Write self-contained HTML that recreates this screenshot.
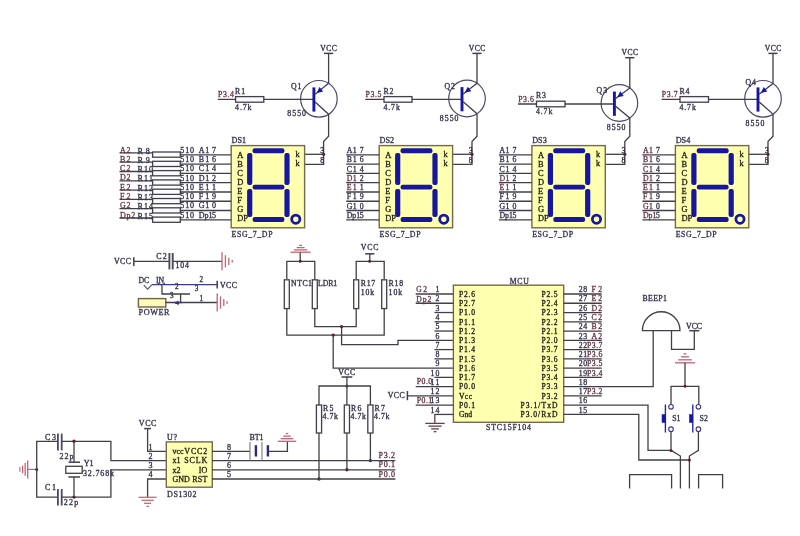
<!DOCTYPE html>
<html><head><meta charset="utf-8"><style>
html,body{margin:0;padding:0;background:#fff;overflow:hidden;}
svg{display:block;filter:blur(0.35px);}
text{font-family:"Liberation Serif",serif;}
</style></head><body>
<svg width="800" height="536" viewBox="0 0 800 536">
<rect width="800" height="536" fill="#ffffff"/>
<text x="328.6" y="50.8" font-size="7.6" fill="#34344c" text-anchor="middle" textLength="16.5" lengthAdjust="spacing" stroke="#34344c" stroke-width="0.32">VCC</text>
<line x1="324" y1="53.4" x2="333.2" y2="53.4" stroke="#404046" stroke-width="1.5"/>
<line x1="328.6" y1="53.4" x2="328.6" y2="83.28" stroke="#404046" stroke-width="1.3"/>
<circle cx="318.9" cy="98.8" r="18.3" fill="none" stroke="#4a4a66" stroke-width="1.2"/>
<line x1="217.8" y1="99.4" x2="313.9" y2="99.4" stroke="#404046" stroke-width="1.3"/>
<rect x="235.6" y="96.6" width="28.2" height="5.6" fill="#fbfbff" stroke="#404046" stroke-width="1.3"/>
<text x="218" y="96.9" font-size="7.8" fill="#66384a" textLength="15.8" lengthAdjust="spacing" stroke="#66384a" stroke-width="0.32">P3.4</text>
<text x="235.1" y="93.5" font-size="7.8" fill="#34344c" textLength="10" lengthAdjust="spacing" stroke="#34344c" stroke-width="0.32">R1</text>
<text x="235.1" y="109.6" font-size="7.8" fill="#34344c" textLength="16.3" lengthAdjust="spacing" stroke="#34344c" stroke-width="0.32">4.7k</text>
<text x="290.9" y="88.5" font-size="7.8" fill="#34344c" textLength="10.5" lengthAdjust="spacing" stroke="#34344c" stroke-width="0.32">Q1</text>
<text x="287.2" y="115.6" font-size="7.8" fill="#34344c" textLength="18.8" lengthAdjust="spacing" stroke="#34344c" stroke-width="0.32">8550</text>
<line x1="313.9" y1="87.4" x2="313.9" y2="111.6" stroke="#1616a0" stroke-width="2.9"/>
<line x1="315.1" y1="94.2" x2="328.6" y2="83.28" stroke="#3a3a70" stroke-width="1.3"/>
<polygon points="316.66,92.94 323.14,91.42 319.5,86.91" fill="#1616a0"/>
<line x1="315.1" y1="102" x2="328.6" y2="114.32" stroke="#3a3a50" stroke-width="1.3"/>
<polyline points="328.6,114.32 328.6,136.3 323.6,141.6 323.6,164.4 304.6,164.4" fill="none" stroke="#404046" stroke-width="1.3" stroke-linejoin="miter"/>
<line x1="304.6" y1="154.3" x2="323.6" y2="154.3" stroke="#404046" stroke-width="1.3"/>
<circle cx="323.6" cy="154.3" r="1.6" fill="#5a2030"/>
<text x="324.2" y="152.6" font-size="7.8" fill="#34344c" text-anchor="end" stroke="#34344c" stroke-width="0.32">3</text>
<text x="324.2" y="162.5" font-size="7.8" fill="#34344c" text-anchor="end" stroke="#34344c" stroke-width="0.32">8</text>
<text x="477" y="50.8" font-size="7.6" fill="#34344c" text-anchor="middle" textLength="16.5" lengthAdjust="spacing" stroke="#34344c" stroke-width="0.32">VCC</text>
<line x1="472.4" y1="53.4" x2="481.6" y2="53.4" stroke="#404046" stroke-width="1.5"/>
<line x1="477" y1="53.4" x2="477" y2="83.17" stroke="#404046" stroke-width="1.3"/>
<circle cx="467" cy="98.5" r="18.3" fill="none" stroke="#4a4a66" stroke-width="1.2"/>
<line x1="365.3" y1="99.4" x2="462" y2="99.4" stroke="#404046" stroke-width="1.3"/>
<rect x="384" y="96.6" width="28" height="5.6" fill="#fbfbff" stroke="#404046" stroke-width="1.3"/>
<text x="365.5" y="96.9" font-size="7.8" fill="#66384a" textLength="15.8" lengthAdjust="spacing" stroke="#66384a" stroke-width="0.32">P3.5</text>
<text x="383.5" y="93.5" font-size="7.8" fill="#34344c" textLength="10" lengthAdjust="spacing" stroke="#34344c" stroke-width="0.32">R2</text>
<text x="383.5" y="109.6" font-size="7.8" fill="#34344c" textLength="16.3" lengthAdjust="spacing" stroke="#34344c" stroke-width="0.32">4.7k</text>
<text x="444.5" y="88.6" font-size="7.8" fill="#34344c" textLength="10.5" lengthAdjust="spacing" stroke="#34344c" stroke-width="0.32">Q2</text>
<text x="439.7" y="121.4" font-size="7.8" fill="#34344c" textLength="18.8" lengthAdjust="spacing" stroke="#34344c" stroke-width="0.32">8550</text>
<line x1="462" y1="87.1" x2="462" y2="111.3" stroke="#1616a0" stroke-width="2.9"/>
<line x1="463.2" y1="93.9" x2="477" y2="83.17" stroke="#3a3a70" stroke-width="1.3"/>
<polygon points="464.78,92.67 471.3,91.28 467.74,86.7" fill="#1616a0"/>
<line x1="463.2" y1="101.7" x2="477" y2="113.83" stroke="#3a3a50" stroke-width="1.3"/>
<polyline points="477,113.83 477,136.3 472,141.6 472,164.4 452.6,164.4" fill="none" stroke="#404046" stroke-width="1.3" stroke-linejoin="miter"/>
<line x1="452.6" y1="154.3" x2="472" y2="154.3" stroke="#404046" stroke-width="1.3"/>
<circle cx="472" cy="154.3" r="1.6" fill="#5a2030"/>
<text x="472.6" y="152.6" font-size="7.8" fill="#34344c" text-anchor="end" stroke="#34344c" stroke-width="0.32">3</text>
<text x="472.6" y="162.5" font-size="7.8" fill="#34344c" text-anchor="end" stroke="#34344c" stroke-width="0.32">8</text>
<text x="629.8" y="55.1" font-size="7.6" fill="#34344c" text-anchor="middle" textLength="16.5" lengthAdjust="spacing" stroke="#34344c" stroke-width="0.32">VCC</text>
<line x1="625.2" y1="57.7" x2="634.4" y2="57.7" stroke="#404046" stroke-width="1.5"/>
<line x1="629.8" y1="57.7" x2="629.8" y2="87.94" stroke="#404046" stroke-width="1.3"/>
<circle cx="619.4" cy="103" r="18.3" fill="none" stroke="#4a4a66" stroke-width="1.2"/>
<line x1="518" y1="104" x2="614.4" y2="104" stroke="#404046" stroke-width="1.3"/>
<rect x="536.5" y="101.2" width="28.5" height="5.6" fill="#fbfbff" stroke="#404046" stroke-width="1.3"/>
<text x="518.2" y="101.5" font-size="7.8" fill="#66384a" textLength="15.8" lengthAdjust="spacing" stroke="#66384a" stroke-width="0.32">P3.6</text>
<text x="536" y="98.1" font-size="7.8" fill="#34344c" textLength="10" lengthAdjust="spacing" stroke="#34344c" stroke-width="0.32">R3</text>
<text x="536" y="114.2" font-size="7.8" fill="#34344c" textLength="16.3" lengthAdjust="spacing" stroke="#34344c" stroke-width="0.32">4.7k</text>
<text x="596.6" y="93.4" font-size="7.8" fill="#34344c" textLength="10.5" lengthAdjust="spacing" stroke="#34344c" stroke-width="0.32">Q3</text>
<text x="606.7" y="130" font-size="7.8" fill="#34344c" textLength="18.8" lengthAdjust="spacing" stroke="#34344c" stroke-width="0.32">8550</text>
<line x1="614.4" y1="91.6" x2="614.4" y2="115.8" stroke="#1616a0" stroke-width="2.9"/>
<line x1="615.6" y1="98.4" x2="629.8" y2="87.94" stroke="#3a3a70" stroke-width="1.3"/>
<polygon points="617.21,97.21 623.76,95.99 620.32,91.32" fill="#1616a0"/>
<line x1="615.6" y1="106.2" x2="629.8" y2="118.06" stroke="#3a3a50" stroke-width="1.3"/>
<polyline points="629.8,118.06 629.8,136.3 624.8,141.6 624.8,164.4 605.3,164.4" fill="none" stroke="#404046" stroke-width="1.3" stroke-linejoin="miter"/>
<line x1="605.3" y1="154.3" x2="624.8" y2="154.3" stroke="#404046" stroke-width="1.3"/>
<circle cx="624.8" cy="154.3" r="1.6" fill="#5a2030"/>
<text x="625.4" y="152.6" font-size="7.8" fill="#34344c" text-anchor="end" stroke="#34344c" stroke-width="0.32">3</text>
<text x="625.4" y="162.5" font-size="7.8" fill="#34344c" text-anchor="end" stroke="#34344c" stroke-width="0.32">8</text>
<text x="773" y="50.8" font-size="7.6" fill="#34344c" text-anchor="middle" textLength="16.5" lengthAdjust="spacing" stroke="#34344c" stroke-width="0.32">VCC</text>
<line x1="768.4" y1="53.4" x2="777.6" y2="53.4" stroke="#404046" stroke-width="1.5"/>
<line x1="773" y1="53.4" x2="773" y2="83.47" stroke="#404046" stroke-width="1.3"/>
<circle cx="763" cy="98.8" r="18.3" fill="none" stroke="#4a4a66" stroke-width="1.2"/>
<line x1="661.6" y1="99.4" x2="758" y2="99.4" stroke="#404046" stroke-width="1.3"/>
<rect x="680" y="96.6" width="28.5" height="5.6" fill="#fbfbff" stroke="#404046" stroke-width="1.3"/>
<text x="661.8" y="96.9" font-size="7.8" fill="#66384a" textLength="15.8" lengthAdjust="spacing" stroke="#66384a" stroke-width="0.32">P3.7</text>
<text x="679.5" y="93.5" font-size="7.8" fill="#34344c" textLength="10" lengthAdjust="spacing" stroke="#34344c" stroke-width="0.32">R4</text>
<text x="679.5" y="109.6" font-size="7.8" fill="#34344c" textLength="16.3" lengthAdjust="spacing" stroke="#34344c" stroke-width="0.32">4.7k</text>
<text x="745.5" y="84.8" font-size="7.8" fill="#34344c" textLength="10.5" lengthAdjust="spacing" stroke="#34344c" stroke-width="0.32">Q4</text>
<text x="745.5" y="126" font-size="7.8" fill="#34344c" textLength="18.8" lengthAdjust="spacing" stroke="#34344c" stroke-width="0.32">8550</text>
<line x1="758" y1="87.4" x2="758" y2="111.6" stroke="#1616a0" stroke-width="2.9"/>
<line x1="759.2" y1="94.2" x2="773" y2="83.47" stroke="#3a3a70" stroke-width="1.3"/>
<polygon points="760.78,92.97 767.3,91.58 763.74,87" fill="#1616a0"/>
<line x1="759.2" y1="102" x2="773" y2="114.13" stroke="#3a3a50" stroke-width="1.3"/>
<polyline points="773,114.13 773,136.3 768,141.6 768,164.4 748.8,164.4" fill="none" stroke="#404046" stroke-width="1.3" stroke-linejoin="miter"/>
<line x1="748.8" y1="154.3" x2="768" y2="154.3" stroke="#404046" stroke-width="1.3"/>
<circle cx="768" cy="154.3" r="1.6" fill="#5a2030"/>
<text x="768.6" y="152.6" font-size="7.8" fill="#34344c" text-anchor="end" stroke="#34344c" stroke-width="0.32">3</text>
<text x="768.6" y="162.5" font-size="7.8" fill="#34344c" text-anchor="end" stroke="#34344c" stroke-width="0.32">8</text>
<rect x="231.2" y="145.6" width="73.4" height="82.2" fill="#ffffb0" stroke="#74694e" stroke-width="1.4"/>
<text x="231.5" y="143.2" font-size="8.2" fill="#34344c" stroke="#34344c" stroke-width="0.32">DS1</text>
<text x="231.5" y="236.5" font-size="7.8" fill="#34344c" textLength="41" lengthAdjust="spacing" stroke="#34344c" stroke-width="0.32">ESG_7_DP</text>
<text x="237.2" y="157.5" font-size="8.4" fill="#26241a" stroke="#26241a" stroke-width="0.32">A</text>
<text x="237.2" y="166.64" font-size="8.4" fill="#26241a" stroke="#26241a" stroke-width="0.32">B</text>
<text x="237.2" y="175.78" font-size="8.4" fill="#26241a" stroke="#26241a" stroke-width="0.32">C</text>
<text x="237.2" y="184.92" font-size="8.4" fill="#26241a" stroke="#26241a" stroke-width="0.32">D</text>
<text x="237.2" y="194.06" font-size="8.4" fill="#26241a" stroke="#26241a" stroke-width="0.32">E</text>
<text x="237.2" y="203.2" font-size="8.4" fill="#26241a" stroke="#26241a" stroke-width="0.32">F</text>
<text x="237.2" y="212.34" font-size="8.4" fill="#26241a" stroke="#26241a" stroke-width="0.32">G</text>
<text x="237.2" y="221.48" font-size="8.4" fill="#26241a" stroke="#26241a" stroke-width="0.32">DP</text>
<text x="295.4" y="156.8" font-size="8.2" fill="#26241a" stroke="#26241a" stroke-width="0.32">k</text>
<text x="295.4" y="166" font-size="8.2" fill="#26241a" stroke="#26241a" stroke-width="0.32">k</text>
<rect x="252.6" y="148.2" width="31.8" height="5" rx="2" fill="#1616a0"/>
<rect x="252.6" y="184.8" width="31.8" height="4.8" rx="2" fill="#1616a0"/>
<rect x="252.6" y="217.1" width="31.8" height="5" rx="2" fill="#1616a0"/>
<rect x="247.1" y="153" width="5.2" height="32" rx="2" fill="#1616a0"/>
<rect x="284.4" y="153" width="5.2" height="32" rx="2" fill="#1616a0"/>
<rect x="247.1" y="189" width="5.2" height="28.1" rx="2" fill="#1616a0"/>
<rect x="284.4" y="189" width="5.2" height="28.1" rx="2" fill="#1616a0"/>
<circle cx="295.8" cy="219.2" r="4.1" fill="none" stroke="#1616a0" stroke-width="2.8"/>
<line x1="180.3" y1="154.9" x2="231.2" y2="154.9" stroke="#404046" stroke-width="1.3"/>
<text x="180.3" y="152.8" font-size="8" fill="#34344c" textLength="13.8" lengthAdjust="spacing" stroke="#34344c" stroke-width="0.32">510</text>
<text x="198.7" y="152.8" font-size="8" fill="#34344c" textLength="10.5" lengthAdjust="spacing" stroke="#34344c" stroke-width="0.32">A1</text>
<text x="212" y="152.8" font-size="8" fill="#34344c" stroke="#34344c" stroke-width="0.32">7</text>
<line x1="180.3" y1="164.17" x2="231.2" y2="164.17" stroke="#404046" stroke-width="1.3"/>
<text x="180.3" y="162.07" font-size="8" fill="#34344c" textLength="13.8" lengthAdjust="spacing" stroke="#34344c" stroke-width="0.32">510</text>
<text x="198.7" y="162.07" font-size="8" fill="#34344c" textLength="10.5" lengthAdjust="spacing" stroke="#34344c" stroke-width="0.32">B1</text>
<text x="212" y="162.07" font-size="8" fill="#34344c" stroke="#34344c" stroke-width="0.32">6</text>
<line x1="180.3" y1="173.44" x2="231.2" y2="173.44" stroke="#404046" stroke-width="1.3"/>
<text x="180.3" y="171.34" font-size="8" fill="#34344c" textLength="13.8" lengthAdjust="spacing" stroke="#34344c" stroke-width="0.32">510</text>
<text x="198.7" y="171.34" font-size="8" fill="#34344c" textLength="10.5" lengthAdjust="spacing" stroke="#34344c" stroke-width="0.32">C1</text>
<text x="212" y="171.34" font-size="8" fill="#34344c" stroke="#34344c" stroke-width="0.32">4</text>
<line x1="180.3" y1="182.71" x2="231.2" y2="182.71" stroke="#404046" stroke-width="1.3"/>
<text x="180.3" y="180.61" font-size="8" fill="#34344c" textLength="13.8" lengthAdjust="spacing" stroke="#34344c" stroke-width="0.32">510</text>
<text x="198.7" y="180.61" font-size="8" fill="#34344c" textLength="10.5" lengthAdjust="spacing" stroke="#34344c" stroke-width="0.32">D1</text>
<text x="212" y="180.61" font-size="8" fill="#34344c" stroke="#34344c" stroke-width="0.32">2</text>
<line x1="180.3" y1="191.98" x2="231.2" y2="191.98" stroke="#404046" stroke-width="1.3"/>
<text x="180.3" y="189.88" font-size="8" fill="#34344c" textLength="13.8" lengthAdjust="spacing" stroke="#34344c" stroke-width="0.32">510</text>
<text x="198.7" y="189.88" font-size="8" fill="#34344c" textLength="10.5" lengthAdjust="spacing" stroke="#34344c" stroke-width="0.32">E1</text>
<text x="212" y="189.88" font-size="8" fill="#34344c" stroke="#34344c" stroke-width="0.32">1</text>
<line x1="180.3" y1="201.25" x2="231.2" y2="201.25" stroke="#404046" stroke-width="1.3"/>
<text x="180.3" y="199.15" font-size="8" fill="#34344c" textLength="13.8" lengthAdjust="spacing" stroke="#34344c" stroke-width="0.32">510</text>
<text x="198.7" y="199.15" font-size="8" fill="#34344c" textLength="10.5" lengthAdjust="spacing" stroke="#34344c" stroke-width="0.32">F1</text>
<text x="212" y="199.15" font-size="8" fill="#34344c" stroke="#34344c" stroke-width="0.32">9</text>
<line x1="180.3" y1="210.52" x2="231.2" y2="210.52" stroke="#404046" stroke-width="1.3"/>
<text x="180.3" y="208.42" font-size="8" fill="#34344c" textLength="13.8" lengthAdjust="spacing" stroke="#34344c" stroke-width="0.32">510</text>
<text x="198.7" y="208.42" font-size="8" fill="#34344c" textLength="10.5" lengthAdjust="spacing" stroke="#34344c" stroke-width="0.32">G1</text>
<text x="212" y="208.42" font-size="8" fill="#34344c" stroke="#34344c" stroke-width="0.32">0</text>
<line x1="180.3" y1="219.79" x2="231.2" y2="219.79" stroke="#404046" stroke-width="1.3"/>
<text x="180.3" y="217.69" font-size="8" fill="#34344c" textLength="13.8" lengthAdjust="spacing" stroke="#34344c" stroke-width="0.32">510</text>
<text x="198.7" y="217.69" font-size="8" fill="#34344c" stroke="#34344c" stroke-width="0.32">Dp1</text>
<text x="212" y="217.69" font-size="8" fill="#34344c" stroke="#34344c" stroke-width="0.32">5</text>
<rect x="379.2" y="145.6" width="73.4" height="82.2" fill="#ffffb0" stroke="#74694e" stroke-width="1.4"/>
<text x="379.5" y="143.2" font-size="8.2" fill="#34344c" stroke="#34344c" stroke-width="0.32">DS2</text>
<text x="379.5" y="236.5" font-size="7.8" fill="#34344c" textLength="41" lengthAdjust="spacing" stroke="#34344c" stroke-width="0.32">ESG_7_DP</text>
<text x="385.2" y="157.5" font-size="8.4" fill="#26241a" stroke="#26241a" stroke-width="0.32">A</text>
<text x="385.2" y="166.64" font-size="8.4" fill="#26241a" stroke="#26241a" stroke-width="0.32">B</text>
<text x="385.2" y="175.78" font-size="8.4" fill="#26241a" stroke="#26241a" stroke-width="0.32">C</text>
<text x="385.2" y="184.92" font-size="8.4" fill="#26241a" stroke="#26241a" stroke-width="0.32">D</text>
<text x="385.2" y="194.06" font-size="8.4" fill="#26241a" stroke="#26241a" stroke-width="0.32">E</text>
<text x="385.2" y="203.2" font-size="8.4" fill="#26241a" stroke="#26241a" stroke-width="0.32">F</text>
<text x="385.2" y="212.34" font-size="8.4" fill="#26241a" stroke="#26241a" stroke-width="0.32">G</text>
<text x="385.2" y="221.48" font-size="8.4" fill="#26241a" stroke="#26241a" stroke-width="0.32">DP</text>
<text x="443.4" y="156.8" font-size="8.2" fill="#26241a" stroke="#26241a" stroke-width="0.32">k</text>
<text x="443.4" y="166" font-size="8.2" fill="#26241a" stroke="#26241a" stroke-width="0.32">k</text>
<rect x="400.6" y="148.2" width="31.8" height="5" rx="2" fill="#1616a0"/>
<rect x="400.6" y="184.8" width="31.8" height="4.8" rx="2" fill="#1616a0"/>
<rect x="400.6" y="217.1" width="31.8" height="5" rx="2" fill="#1616a0"/>
<rect x="395.1" y="153" width="5.2" height="32" rx="2" fill="#1616a0"/>
<rect x="432.4" y="153" width="5.2" height="32" rx="2" fill="#1616a0"/>
<rect x="395.1" y="189" width="5.2" height="28.1" rx="2" fill="#1616a0"/>
<rect x="432.4" y="189" width="5.2" height="28.1" rx="2" fill="#1616a0"/>
<circle cx="443.8" cy="219.2" r="4.1" fill="none" stroke="#1616a0" stroke-width="2.8"/>
<line x1="346.2" y1="154.9" x2="379.2" y2="154.9" stroke="#404046" stroke-width="1.3"/>
<text x="346.7" y="153" font-size="7.8" fill="#34344c" textLength="10" lengthAdjust="spacing" stroke="#34344c" stroke-width="0.32">A1</text>
<text x="359.7" y="153" font-size="7.8" fill="#34344c" stroke="#34344c" stroke-width="0.32">7</text>
<line x1="346.2" y1="164.17" x2="379.2" y2="164.17" stroke="#404046" stroke-width="1.3"/>
<text x="346.7" y="162.27" font-size="7.8" fill="#34344c" textLength="10" lengthAdjust="spacing" stroke="#34344c" stroke-width="0.32">B1</text>
<text x="359.7" y="162.27" font-size="7.8" fill="#34344c" stroke="#34344c" stroke-width="0.32">6</text>
<line x1="346.2" y1="173.44" x2="379.2" y2="173.44" stroke="#404046" stroke-width="1.3"/>
<text x="346.7" y="171.54" font-size="7.8" fill="#34344c" textLength="10" lengthAdjust="spacing" stroke="#34344c" stroke-width="0.32">C1</text>
<text x="359.7" y="171.54" font-size="7.8" fill="#34344c" stroke="#34344c" stroke-width="0.32">4</text>
<line x1="346.2" y1="182.71" x2="379.2" y2="182.71" stroke="#404046" stroke-width="1.3"/>
<text x="346.7" y="180.81" font-size="7.8" fill="#66384a" textLength="10" lengthAdjust="spacing" stroke="#66384a" stroke-width="0.32">D1</text>
<text x="359.7" y="180.81" font-size="7.8" fill="#34344c" stroke="#34344c" stroke-width="0.32">2</text>
<line x1="346.2" y1="191.98" x2="379.2" y2="191.98" stroke="#404046" stroke-width="1.3"/>
<text x="346.7" y="190.08" font-size="7.8" fill="#66384a" textLength="10" lengthAdjust="spacing" stroke="#66384a" stroke-width="0.32">E1</text>
<text x="359.7" y="190.08" font-size="7.8" fill="#34344c" stroke="#34344c" stroke-width="0.32">1</text>
<line x1="346.2" y1="201.25" x2="379.2" y2="201.25" stroke="#404046" stroke-width="1.3"/>
<text x="346.7" y="199.35" font-size="7.8" fill="#34344c" textLength="10" lengthAdjust="spacing" stroke="#34344c" stroke-width="0.32">F1</text>
<text x="359.7" y="199.35" font-size="7.8" fill="#34344c" stroke="#34344c" stroke-width="0.32">9</text>
<line x1="346.2" y1="210.52" x2="379.2" y2="210.52" stroke="#404046" stroke-width="1.3"/>
<text x="346.7" y="208.62" font-size="7.8" fill="#34344c" textLength="10" lengthAdjust="spacing" stroke="#34344c" stroke-width="0.32">G1</text>
<text x="359.7" y="208.62" font-size="7.8" fill="#34344c" stroke="#34344c" stroke-width="0.32">0</text>
<line x1="346.2" y1="219.79" x2="379.2" y2="219.79" stroke="#404046" stroke-width="1.3"/>
<text x="346.7" y="217.89" font-size="7.8" fill="#34344c" stroke="#34344c" stroke-width="0.32">Dp1</text>
<text x="359.7" y="217.89" font-size="7.8" fill="#34344c" stroke="#34344c" stroke-width="0.32">5</text>
<rect x="531.9" y="145.6" width="73.4" height="82.2" fill="#ffffb0" stroke="#74694e" stroke-width="1.4"/>
<text x="532.2" y="143.2" font-size="8.2" fill="#34344c" stroke="#34344c" stroke-width="0.32">DS3</text>
<text x="532.2" y="236.5" font-size="7.8" fill="#34344c" textLength="41" lengthAdjust="spacing" stroke="#34344c" stroke-width="0.32">ESG_7_DP</text>
<text x="537.9" y="157.5" font-size="8.4" fill="#26241a" stroke="#26241a" stroke-width="0.32">A</text>
<text x="537.9" y="166.64" font-size="8.4" fill="#26241a" stroke="#26241a" stroke-width="0.32">B</text>
<text x="537.9" y="175.78" font-size="8.4" fill="#26241a" stroke="#26241a" stroke-width="0.32">C</text>
<text x="537.9" y="184.92" font-size="8.4" fill="#26241a" stroke="#26241a" stroke-width="0.32">D</text>
<text x="537.9" y="194.06" font-size="8.4" fill="#26241a" stroke="#26241a" stroke-width="0.32">E</text>
<text x="537.9" y="203.2" font-size="8.4" fill="#26241a" stroke="#26241a" stroke-width="0.32">F</text>
<text x="537.9" y="212.34" font-size="8.4" fill="#26241a" stroke="#26241a" stroke-width="0.32">G</text>
<text x="537.9" y="221.48" font-size="8.4" fill="#26241a" stroke="#26241a" stroke-width="0.32">DP</text>
<text x="596.1" y="156.8" font-size="8.2" fill="#26241a" stroke="#26241a" stroke-width="0.32">k</text>
<text x="596.1" y="166" font-size="8.2" fill="#26241a" stroke="#26241a" stroke-width="0.32">k</text>
<rect x="553.3" y="148.2" width="31.8" height="5" rx="2" fill="#1616a0"/>
<rect x="553.3" y="184.8" width="31.8" height="4.8" rx="2" fill="#1616a0"/>
<rect x="553.3" y="217.1" width="31.8" height="5" rx="2" fill="#1616a0"/>
<rect x="547.8" y="153" width="5.2" height="32" rx="2" fill="#1616a0"/>
<rect x="585.1" y="153" width="5.2" height="32" rx="2" fill="#1616a0"/>
<rect x="547.8" y="189" width="5.2" height="28.1" rx="2" fill="#1616a0"/>
<rect x="585.1" y="189" width="5.2" height="28.1" rx="2" fill="#1616a0"/>
<circle cx="596.5" cy="219.2" r="4.1" fill="none" stroke="#1616a0" stroke-width="2.8"/>
<line x1="498.9" y1="154.9" x2="531.9" y2="154.9" stroke="#404046" stroke-width="1.3"/>
<text x="499.4" y="153" font-size="7.8" fill="#34344c" textLength="10" lengthAdjust="spacing" stroke="#34344c" stroke-width="0.32">A1</text>
<text x="512.4" y="153" font-size="7.8" fill="#34344c" stroke="#34344c" stroke-width="0.32">7</text>
<line x1="498.9" y1="164.17" x2="531.9" y2="164.17" stroke="#404046" stroke-width="1.3"/>
<text x="499.4" y="162.27" font-size="7.8" fill="#34344c" textLength="10" lengthAdjust="spacing" stroke="#34344c" stroke-width="0.32">B1</text>
<text x="512.4" y="162.27" font-size="7.8" fill="#34344c" stroke="#34344c" stroke-width="0.32">6</text>
<line x1="498.9" y1="173.44" x2="531.9" y2="173.44" stroke="#404046" stroke-width="1.3"/>
<text x="499.4" y="171.54" font-size="7.8" fill="#34344c" textLength="10" lengthAdjust="spacing" stroke="#34344c" stroke-width="0.32">C1</text>
<text x="512.4" y="171.54" font-size="7.8" fill="#34344c" stroke="#34344c" stroke-width="0.32">4</text>
<line x1="498.9" y1="182.71" x2="531.9" y2="182.71" stroke="#404046" stroke-width="1.3"/>
<text x="499.4" y="180.81" font-size="7.8" fill="#66384a" textLength="10" lengthAdjust="spacing" stroke="#66384a" stroke-width="0.32">D1</text>
<text x="512.4" y="180.81" font-size="7.8" fill="#34344c" stroke="#34344c" stroke-width="0.32">2</text>
<line x1="498.9" y1="191.98" x2="531.9" y2="191.98" stroke="#404046" stroke-width="1.3"/>
<text x="499.4" y="190.08" font-size="7.8" fill="#66384a" textLength="10" lengthAdjust="spacing" stroke="#66384a" stroke-width="0.32">E1</text>
<text x="512.4" y="190.08" font-size="7.8" fill="#34344c" stroke="#34344c" stroke-width="0.32">1</text>
<line x1="498.9" y1="201.25" x2="531.9" y2="201.25" stroke="#404046" stroke-width="1.3"/>
<text x="499.4" y="199.35" font-size="7.8" fill="#34344c" textLength="10" lengthAdjust="spacing" stroke="#34344c" stroke-width="0.32">F1</text>
<text x="512.4" y="199.35" font-size="7.8" fill="#34344c" stroke="#34344c" stroke-width="0.32">9</text>
<line x1="498.9" y1="210.52" x2="531.9" y2="210.52" stroke="#404046" stroke-width="1.3"/>
<text x="499.4" y="208.62" font-size="7.8" fill="#34344c" textLength="10" lengthAdjust="spacing" stroke="#34344c" stroke-width="0.32">G1</text>
<text x="512.4" y="208.62" font-size="7.8" fill="#34344c" stroke="#34344c" stroke-width="0.32">0</text>
<line x1="498.9" y1="219.79" x2="531.9" y2="219.79" stroke="#404046" stroke-width="1.3"/>
<text x="499.4" y="217.89" font-size="7.8" fill="#34344c" stroke="#34344c" stroke-width="0.32">Dp1</text>
<text x="512.4" y="217.89" font-size="7.8" fill="#34344c" stroke="#34344c" stroke-width="0.32">5</text>
<rect x="675.4" y="145.6" width="73.4" height="82.2" fill="#ffffb0" stroke="#74694e" stroke-width="1.4"/>
<text x="675.7" y="143.2" font-size="8.2" fill="#34344c" stroke="#34344c" stroke-width="0.32">DS4</text>
<text x="675.7" y="236.5" font-size="7.8" fill="#34344c" textLength="41" lengthAdjust="spacing" stroke="#34344c" stroke-width="0.32">ESG_7_DP</text>
<text x="681.4" y="157.5" font-size="8.4" fill="#26241a" stroke="#26241a" stroke-width="0.32">A</text>
<text x="681.4" y="166.64" font-size="8.4" fill="#26241a" stroke="#26241a" stroke-width="0.32">B</text>
<text x="681.4" y="175.78" font-size="8.4" fill="#26241a" stroke="#26241a" stroke-width="0.32">C</text>
<text x="681.4" y="184.92" font-size="8.4" fill="#26241a" stroke="#26241a" stroke-width="0.32">D</text>
<text x="681.4" y="194.06" font-size="8.4" fill="#26241a" stroke="#26241a" stroke-width="0.32">E</text>
<text x="681.4" y="203.2" font-size="8.4" fill="#26241a" stroke="#26241a" stroke-width="0.32">F</text>
<text x="681.4" y="212.34" font-size="8.4" fill="#26241a" stroke="#26241a" stroke-width="0.32">G</text>
<text x="681.4" y="221.48" font-size="8.4" fill="#26241a" stroke="#26241a" stroke-width="0.32">DP</text>
<text x="739.6" y="156.8" font-size="8.2" fill="#26241a" stroke="#26241a" stroke-width="0.32">k</text>
<text x="739.6" y="166" font-size="8.2" fill="#26241a" stroke="#26241a" stroke-width="0.32">k</text>
<rect x="696.8" y="148.2" width="31.8" height="5" rx="2" fill="#1616a0"/>
<rect x="696.8" y="184.8" width="31.8" height="4.8" rx="2" fill="#1616a0"/>
<rect x="696.8" y="217.1" width="31.8" height="5" rx="2" fill="#1616a0"/>
<rect x="691.3" y="153" width="5.2" height="32" rx="2" fill="#1616a0"/>
<rect x="728.6" y="153" width="5.2" height="32" rx="2" fill="#1616a0"/>
<rect x="691.3" y="189" width="5.2" height="28.1" rx="2" fill="#1616a0"/>
<rect x="728.6" y="189" width="5.2" height="28.1" rx="2" fill="#1616a0"/>
<circle cx="740" cy="219.2" r="4.1" fill="none" stroke="#1616a0" stroke-width="2.8"/>
<line x1="642.4" y1="154.9" x2="675.4" y2="154.9" stroke="#404046" stroke-width="1.3"/>
<text x="642.9" y="153" font-size="7.8" fill="#66384a" textLength="10" lengthAdjust="spacing" stroke="#66384a" stroke-width="0.32">A1</text>
<text x="655.9" y="153" font-size="7.8" fill="#34344c" stroke="#34344c" stroke-width="0.32">7</text>
<line x1="642.4" y1="164.17" x2="675.4" y2="164.17" stroke="#404046" stroke-width="1.3"/>
<text x="642.9" y="162.27" font-size="7.8" fill="#66384a" textLength="10" lengthAdjust="spacing" stroke="#66384a" stroke-width="0.32">B1</text>
<text x="655.9" y="162.27" font-size="7.8" fill="#34344c" stroke="#34344c" stroke-width="0.32">6</text>
<line x1="642.4" y1="173.44" x2="675.4" y2="173.44" stroke="#404046" stroke-width="1.3"/>
<text x="642.9" y="171.54" font-size="7.8" fill="#66384a" textLength="10" lengthAdjust="spacing" stroke="#66384a" stroke-width="0.32">C1</text>
<text x="655.9" y="171.54" font-size="7.8" fill="#34344c" stroke="#34344c" stroke-width="0.32">4</text>
<line x1="642.4" y1="182.71" x2="675.4" y2="182.71" stroke="#404046" stroke-width="1.3"/>
<text x="642.9" y="180.81" font-size="7.8" fill="#66384a" textLength="10" lengthAdjust="spacing" stroke="#66384a" stroke-width="0.32">D1</text>
<text x="655.9" y="180.81" font-size="7.8" fill="#34344c" stroke="#34344c" stroke-width="0.32">2</text>
<line x1="642.4" y1="191.98" x2="675.4" y2="191.98" stroke="#404046" stroke-width="1.3"/>
<text x="642.9" y="190.08" font-size="7.8" fill="#66384a" textLength="10" lengthAdjust="spacing" stroke="#66384a" stroke-width="0.32">E1</text>
<text x="655.9" y="190.08" font-size="7.8" fill="#34344c" stroke="#34344c" stroke-width="0.32">1</text>
<line x1="642.4" y1="201.25" x2="675.4" y2="201.25" stroke="#404046" stroke-width="1.3"/>
<text x="642.9" y="199.35" font-size="7.8" fill="#66384a" textLength="10" lengthAdjust="spacing" stroke="#66384a" stroke-width="0.32">F1</text>
<text x="655.9" y="199.35" font-size="7.8" fill="#34344c" stroke="#34344c" stroke-width="0.32">9</text>
<line x1="642.4" y1="210.52" x2="675.4" y2="210.52" stroke="#404046" stroke-width="1.3"/>
<text x="642.9" y="208.62" font-size="7.8" fill="#66384a" textLength="10" lengthAdjust="spacing" stroke="#66384a" stroke-width="0.32">G1</text>
<text x="655.9" y="208.62" font-size="7.8" fill="#34344c" stroke="#34344c" stroke-width="0.32">0</text>
<line x1="642.4" y1="219.79" x2="675.4" y2="219.79" stroke="#404046" stroke-width="1.3"/>
<text x="642.9" y="217.89" font-size="7.8" fill="#66384a" stroke="#66384a" stroke-width="0.32">Dp1</text>
<text x="655.9" y="217.89" font-size="7.8" fill="#34344c" stroke="#34344c" stroke-width="0.32">5</text>
<line x1="119.5" y1="152.9" x2="152.6" y2="152.9" stroke="#404046" stroke-width="1.3"/>
<text x="120" y="152.5" font-size="8" fill="#66384a" textLength="10.5" lengthAdjust="spacing" stroke="#66384a" stroke-width="0.32">A2</text>
<text x="137.5" y="153.5" font-size="8" fill="#34344c" textLength="12.3" lengthAdjust="spacing" stroke="#34344c" stroke-width="0.32">R8</text>
<line x1="119.5" y1="162.2" x2="152.6" y2="162.2" stroke="#404046" stroke-width="1.3"/>
<text x="120" y="161.8" font-size="8" fill="#66384a" textLength="10.5" lengthAdjust="spacing" stroke="#66384a" stroke-width="0.32">B2</text>
<text x="137.5" y="162.8" font-size="8" fill="#34344c" textLength="12.3" lengthAdjust="spacing" stroke="#34344c" stroke-width="0.32">R9</text>
<line x1="119.5" y1="171.5" x2="152.6" y2="171.5" stroke="#404046" stroke-width="1.3"/>
<text x="120" y="171.1" font-size="8" fill="#66384a" textLength="10.5" lengthAdjust="spacing" stroke="#66384a" stroke-width="0.32">C2</text>
<text x="137.5" y="172.1" font-size="8" fill="#34344c" textLength="15.5" lengthAdjust="spacing" stroke="#34344c" stroke-width="0.32">R10</text>
<line x1="119.5" y1="180.8" x2="152.6" y2="180.8" stroke="#404046" stroke-width="1.3"/>
<text x="120" y="180.4" font-size="8" fill="#66384a" textLength="10.5" lengthAdjust="spacing" stroke="#66384a" stroke-width="0.32">D2</text>
<text x="137.5" y="181.4" font-size="8" fill="#34344c" textLength="15.5" lengthAdjust="spacing" stroke="#34344c" stroke-width="0.32">R11</text>
<line x1="119.5" y1="190.1" x2="152.6" y2="190.1" stroke="#404046" stroke-width="1.3"/>
<text x="120" y="189.7" font-size="8" fill="#66384a" textLength="10.5" lengthAdjust="spacing" stroke="#66384a" stroke-width="0.32">E2</text>
<text x="137.5" y="190.7" font-size="8" fill="#34344c" textLength="15.5" lengthAdjust="spacing" stroke="#34344c" stroke-width="0.32">R12</text>
<line x1="119.5" y1="199.4" x2="152.6" y2="199.4" stroke="#404046" stroke-width="1.3"/>
<text x="120" y="199" font-size="8" fill="#66384a" textLength="10.5" lengthAdjust="spacing" stroke="#66384a" stroke-width="0.32">F2</text>
<text x="137.5" y="200" font-size="8" fill="#34344c" textLength="15.5" lengthAdjust="spacing" stroke="#34344c" stroke-width="0.32">R13</text>
<line x1="119.5" y1="208.7" x2="152.6" y2="208.7" stroke="#404046" stroke-width="1.3"/>
<text x="120" y="208.3" font-size="8" fill="#66384a" textLength="10.5" lengthAdjust="spacing" stroke="#66384a" stroke-width="0.32">G2</text>
<text x="137.5" y="209.3" font-size="8" fill="#34344c" textLength="15.5" lengthAdjust="spacing" stroke="#34344c" stroke-width="0.32">R14</text>
<line x1="119.5" y1="218" x2="152.6" y2="218" stroke="#404046" stroke-width="1.3"/>
<text x="120" y="217.6" font-size="8" fill="#66384a" textLength="15.3" lengthAdjust="spacing" stroke="#66384a" stroke-width="0.32">Dp2</text>
<text x="137.5" y="218.6" font-size="8" fill="#34344c" textLength="15.5" lengthAdjust="spacing" stroke="#34344c" stroke-width="0.32">R15</text>
<rect x="152.6" y="152" width="27.7" height="5.2" fill="#fbfbff" stroke="#404046" stroke-width="1.3"/>
<rect x="152.6" y="161.3" width="27.7" height="5.2" fill="#fbfbff" stroke="#404046" stroke-width="1.3"/>
<rect x="152.6" y="170.6" width="27.7" height="5.2" fill="#fbfbff" stroke="#404046" stroke-width="1.3"/>
<rect x="152.6" y="179.9" width="27.7" height="5.2" fill="#fbfbff" stroke="#404046" stroke-width="1.3"/>
<rect x="152.6" y="189.2" width="27.7" height="5.2" fill="#fbfbff" stroke="#404046" stroke-width="1.3"/>
<rect x="152.6" y="198.5" width="27.7" height="5.2" fill="#fbfbff" stroke="#404046" stroke-width="1.3"/>
<rect x="152.6" y="207.8" width="27.7" height="5.2" fill="#fbfbff" stroke="#404046" stroke-width="1.3"/>
<rect x="152.6" y="217.1" width="27.7" height="5.2" fill="#fbfbff" stroke="#404046" stroke-width="1.3"/>
<text x="114" y="264.3" font-size="7.8" fill="#34344c" textLength="17" lengthAdjust="spacing" stroke="#34344c" stroke-width="0.32">VCC</text>
<line x1="133.8" y1="257.3" x2="133.8" y2="265.9" stroke="#404046" stroke-width="1.5"/>
<line x1="133.8" y1="261.3" x2="169.4" y2="261.3" stroke="#404046" stroke-width="1.3"/>
<line x1="173" y1="261.3" x2="222" y2="261.3" stroke="#404046" stroke-width="1.3"/>
<line x1="169.4" y1="253" x2="169.4" y2="269.4" stroke="#4a4a58" stroke-width="1.9"/>
<line x1="172.7" y1="253" x2="172.7" y2="269.4" stroke="#4a4a58" stroke-width="1.9"/>
<text x="156.2" y="259.4" font-size="8" fill="#34344c" textLength="10.5" lengthAdjust="spacing" stroke="#34344c" stroke-width="0.32">C2</text>
<text x="175.5" y="268" font-size="7.8" fill="#34344c" textLength="13.5" lengthAdjust="spacing" stroke="#34344c" stroke-width="0.32">104</text>
<line x1="222" y1="252.3" x2="222" y2="270.3" stroke="#bf6474" stroke-width="1.3"/>
<line x1="225.4" y1="255.18" x2="225.4" y2="267.42" stroke="#bf6474" stroke-width="1.3"/>
<line x1="228.8" y1="257.7" x2="228.8" y2="264.9" stroke="#bf6474" stroke-width="1.3"/>
<line x1="232.2" y1="260.04" x2="232.2" y2="262.56" stroke="#bf6474" stroke-width="1.3"/>
<text x="138.4" y="282.8" font-size="7.8" fill="#34344c" stroke="#34344c" stroke-width="0.32">DC</text>
<text x="156" y="282.8" font-size="7.8" fill="#34344c" stroke="#34344c" stroke-width="0.32">IN</text>
<polyline points="143.8,285.2 147.6,289.2 151.6,285" fill="none" stroke="#5a5a6a" stroke-width="1.1" stroke-linejoin="miter"/>
<line x1="151.6" y1="284.7" x2="217.2" y2="284.7" stroke="#3c3c8a" stroke-width="1.3"/>
<polyline points="157.6,283 161.6,285.2 165,283" fill="none" stroke="#3c3c8a" stroke-width="1.1" stroke-linejoin="miter"/>
<line x1="217.2" y1="280.8" x2="217.2" y2="288.6" stroke="#404046" stroke-width="1.5"/>
<text x="220" y="287.8" font-size="7.8" fill="#34344c" textLength="17" lengthAdjust="spacing" stroke="#34344c" stroke-width="0.32">VCC</text>
<text x="175" y="289" font-size="7.2" fill="#34344c" stroke="#34344c" stroke-width="0.32">2</text>
<text x="199.4" y="282.3" font-size="7.2" fill="#34344c" stroke="#34344c" stroke-width="0.32">2</text>
<text x="194.7" y="291.3" font-size="7.2" fill="#34344c" stroke="#34344c" stroke-width="0.32">3</text>
<polyline points="162,285.6 162,294 190,294" fill="none" stroke="#404046" stroke-width="1.3" stroke-linejoin="miter"/>
<text x="170" y="297.5" font-size="7.2" fill="#34344c" stroke="#34344c" stroke-width="0.32">3</text>
<line x1="180.6" y1="294" x2="180.6" y2="302.5" stroke="#404046" stroke-width="1.3"/>
<rect x="138.4" y="298.6" width="27.4" height="8.4" fill="#fffab8" stroke="#6a6448" stroke-width="1.4"/>
<line x1="165.6" y1="302.5" x2="217.2" y2="302.5" stroke="#404046" stroke-width="1.3"/>
<line x1="174" y1="302.5" x2="182" y2="302.5" stroke="#3c3c8a" stroke-width="1.5"/>
<text x="175.5" y="305" font-size="7" fill="#34344c" stroke="#34344c" stroke-width="0.32">4</text>
<text x="199.4" y="300.6" font-size="7.2" fill="#34344c" stroke="#34344c" stroke-width="0.32">1</text>
<line x1="217.2" y1="293.5" x2="217.2" y2="311.5" stroke="#bf6474" stroke-width="1.3"/>
<line x1="220.5" y1="296.38" x2="220.5" y2="308.62" stroke="#bf6474" stroke-width="1.3"/>
<line x1="223.8" y1="298.9" x2="223.8" y2="306.1" stroke="#bf6474" stroke-width="1.3"/>
<line x1="227.1" y1="301.24" x2="227.1" y2="303.76" stroke="#bf6474" stroke-width="1.3"/>
<text x="138.6" y="314.8" font-size="8.2" fill="#34344c" textLength="30.8" lengthAdjust="spacing" stroke="#34344c" stroke-width="0.32">POWER</text>
<line x1="290.6" y1="252.2" x2="310.6" y2="252.2" stroke="#bf6474" stroke-width="1.3"/>
<line x1="293.8" y1="249.9" x2="307.4" y2="249.9" stroke="#bf6474" stroke-width="1.3"/>
<line x1="296.6" y1="247.6" x2="304.6" y2="247.6" stroke="#bf6474" stroke-width="1.3"/>
<line x1="299.2" y1="245.3" x2="302" y2="245.3" stroke="#bf6474" stroke-width="1.3"/>
<line x1="300.2" y1="252.4" x2="300.2" y2="261.3" stroke="#404046" stroke-width="1.3"/>
<polyline points="286.8,279 286.8,261.3 314.8,261.3 314.8,279" fill="none" stroke="#404046" stroke-width="1.3" stroke-linejoin="miter"/>
<circle cx="300.2" cy="261.3" r="1.5" fill="#5a2030"/>
<rect x="284.3" y="279.8" width="5" height="28.8" fill="#fbfbff" stroke="#404046" stroke-width="1.3"/>
<rect x="312.3" y="279.8" width="5" height="28.8" fill="#fbfbff" stroke="#404046" stroke-width="1.3"/>
<text x="291" y="286.4" font-size="7.8" fill="#34344c" textLength="21" lengthAdjust="spacing" stroke="#34344c" stroke-width="0.32">NTC1</text>
<text x="318" y="286.4" font-size="7.8" fill="#34344c" textLength="19.11" lengthAdjust="spacing" stroke="#34344c" stroke-width="0.32">LDR1</text>
<text x="369.6" y="250.2" font-size="7.8" fill="#34344c" text-anchor="middle" textLength="17.5" lengthAdjust="spacing" stroke="#34344c" stroke-width="0.32">VCC</text>
<line x1="365.2" y1="253.8" x2="374.4" y2="253.8" stroke="#404046" stroke-width="1.5"/>
<line x1="369.8" y1="253.8" x2="369.8" y2="261.3" stroke="#404046" stroke-width="1.3"/>
<polyline points="356.2,279 356.2,261.3 384.2,261.3 384.2,279" fill="none" stroke="#404046" stroke-width="1.3" stroke-linejoin="miter"/>
<circle cx="369.6" cy="261.3" r="1.5" fill="#5a2030"/>
<rect x="353.7" y="279.8" width="5" height="28.8" fill="#fbfbff" stroke="#404046" stroke-width="1.3"/>
<rect x="381.7" y="279.8" width="5" height="28.8" fill="#fbfbff" stroke="#404046" stroke-width="1.3"/>
<text x="360.7" y="286.4" font-size="7.8" fill="#34344c" textLength="14.5" lengthAdjust="spacing" stroke="#34344c" stroke-width="0.32">R17</text>
<text x="360.7" y="295.2" font-size="7.8" fill="#34344c" textLength="13.5" lengthAdjust="spacing" stroke="#34344c" stroke-width="0.32">10k</text>
<text x="388.6" y="286.4" font-size="7.8" fill="#34344c" textLength="14.5" lengthAdjust="spacing" stroke="#34344c" stroke-width="0.32">R18</text>
<text x="388.6" y="295.2" font-size="7.8" fill="#34344c" textLength="13.5" lengthAdjust="spacing" stroke="#34344c" stroke-width="0.32">10k</text>
<polyline points="314.8,308.4 314.8,326.6 356.2,326.6 356.2,308.4" fill="none" stroke="#404046" stroke-width="1.3" stroke-linejoin="miter"/>
<circle cx="341.6" cy="326.6" r="1.7" fill="#5a2030"/>
<polyline points="341.6,326.6 341.6,344.6 398,344.6 398,340.3 453.3,340.3" fill="none" stroke="#404046" stroke-width="1.3" stroke-linejoin="miter"/>
<polyline points="286.8,308.4 286.8,335.1 384.2,335.1 384.2,308.4" fill="none" stroke="#404046" stroke-width="1.3" stroke-linejoin="miter"/>
<circle cx="333.2" cy="335.1" r="1.7" fill="#5a2030"/>
<polyline points="333.2,335.1 333.2,368.1 453.3,368.1" fill="none" stroke="#404046" stroke-width="1.3" stroke-linejoin="miter"/>
<text x="346.7" y="374.8" font-size="7.8" fill="#34344c" text-anchor="middle" textLength="17" lengthAdjust="spacing" stroke="#34344c" stroke-width="0.32">VCC</text>
<line x1="341.5" y1="377" x2="352.3" y2="377" stroke="#404046" stroke-width="1.5"/>
<line x1="346.9" y1="377" x2="346.9" y2="386" stroke="#404046" stroke-width="1.3"/>
<circle cx="346.9" cy="386" r="1.5" fill="#5a2030"/>
<polyline points="319,405 319,386 370.4,386 370.4,405" fill="none" stroke="#404046" stroke-width="1.3" stroke-linejoin="miter"/>
<line x1="346.9" y1="386" x2="346.9" y2="405" stroke="#404046" stroke-width="1.3"/>
<rect x="316.4" y="405" width="5.2" height="28" fill="#fbfbff" stroke="#404046" stroke-width="1.3"/>
<text x="323" y="410.8" font-size="7.8" fill="#34344c" textLength="10.5" lengthAdjust="spacing" stroke="#34344c" stroke-width="0.32">R5</text>
<text x="322.5" y="418.8" font-size="7.8" fill="#34344c" textLength="15.5" lengthAdjust="spacing" stroke="#34344c" stroke-width="0.32">4.7k</text>
<rect x="344.3" y="405" width="5.2" height="28" fill="#fbfbff" stroke="#404046" stroke-width="1.3"/>
<text x="350.9" y="410.8" font-size="7.8" fill="#34344c" textLength="10.5" lengthAdjust="spacing" stroke="#34344c" stroke-width="0.32">R6</text>
<text x="350.4" y="418.8" font-size="7.8" fill="#34344c" textLength="15.5" lengthAdjust="spacing" stroke="#34344c" stroke-width="0.32">4.7k</text>
<rect x="367.8" y="405" width="5.2" height="28" fill="#fbfbff" stroke="#404046" stroke-width="1.3"/>
<text x="374.4" y="410.8" font-size="7.8" fill="#34344c" textLength="10.5" lengthAdjust="spacing" stroke="#34344c" stroke-width="0.32">R7</text>
<text x="373.9" y="418.8" font-size="7.8" fill="#34344c" textLength="15.5" lengthAdjust="spacing" stroke="#34344c" stroke-width="0.32">4.7k</text>
<line x1="319" y1="433" x2="319" y2="479" stroke="#404046" stroke-width="1.3"/>
<line x1="346.9" y1="433" x2="346.9" y2="469.8" stroke="#404046" stroke-width="1.3"/>
<line x1="370.4" y1="433" x2="370.4" y2="460.6" stroke="#404046" stroke-width="1.3"/>
<circle cx="319" cy="479" r="1.7" fill="#5a2030"/>
<circle cx="346.9" cy="469.8" r="1.7" fill="#5a2030"/>
<circle cx="370.4" cy="460.6" r="1.7" fill="#5a2030"/>
<rect x="453.4" y="285.2" width="110.3" height="137.1" fill="#ffffb0" stroke="#74694e" stroke-width="1.4"/>
<text x="509.8" y="283.6" font-size="7.8" fill="#34344c" textLength="19" lengthAdjust="spacing" stroke="#34344c" stroke-width="0.32">MCU</text>
<text x="486" y="429.6" font-size="7.8" fill="#34344c" textLength="45" lengthAdjust="spacing" stroke="#34344c" stroke-width="0.32">STC15F104</text>
<line x1="415.7" y1="294" x2="453.4" y2="294" stroke="#404046" stroke-width="1.3"/>
<text x="439.5" y="292.2" font-size="7.8" fill="#34344c" text-anchor="end" stroke="#34344c" stroke-width="0.32">1</text>
<text x="459" y="296.8" font-size="7.6" fill="#26241a" textLength="16" lengthAdjust="spacing" stroke="#26241a" stroke-width="0.32">P2.6</text>
<text x="557.5" y="296.8" font-size="7.6" fill="#26241a" text-anchor="end" textLength="16" lengthAdjust="spacing" stroke="#26241a" stroke-width="0.32">P2.5</text>
<line x1="563.7" y1="294" x2="601.7" y2="294" stroke="#404046" stroke-width="1.3"/>
<text x="578.7" y="292.2" font-size="7.8" fill="#34344c" textLength="8.5" lengthAdjust="spacing" stroke="#34344c" stroke-width="0.32">28</text>
<text x="591.6" y="292.2" font-size="7.8" fill="#66384a" textLength="10.5" lengthAdjust="spacing" stroke="#66384a" stroke-width="0.32">F2</text>
<line x1="415.7" y1="303.26" x2="453.4" y2="303.26" stroke="#404046" stroke-width="1.3"/>
<text x="439.5" y="301.46" font-size="7.8" fill="#34344c" text-anchor="end" stroke="#34344c" stroke-width="0.32">2</text>
<text x="459" y="306.06" font-size="7.6" fill="#26241a" textLength="16" lengthAdjust="spacing" stroke="#26241a" stroke-width="0.32">P2.7</text>
<text x="557.5" y="306.06" font-size="7.6" fill="#26241a" text-anchor="end" textLength="16" lengthAdjust="spacing" stroke="#26241a" stroke-width="0.32">P2.4</text>
<line x1="563.7" y1="303.26" x2="601.7" y2="303.26" stroke="#404046" stroke-width="1.3"/>
<text x="578.7" y="301.46" font-size="7.8" fill="#34344c" textLength="8.5" lengthAdjust="spacing" stroke="#34344c" stroke-width="0.32">27</text>
<text x="591.6" y="301.46" font-size="7.8" fill="#66384a" textLength="10.5" lengthAdjust="spacing" stroke="#66384a" stroke-width="0.32">E2</text>
<line x1="434.5" y1="312.53" x2="453.4" y2="312.53" stroke="#404046" stroke-width="1.3"/>
<text x="439.5" y="310.73" font-size="7.8" fill="#34344c" text-anchor="end" stroke="#34344c" stroke-width="0.32">3</text>
<text x="459" y="315.33" font-size="7.6" fill="#26241a" textLength="16" lengthAdjust="spacing" stroke="#26241a" stroke-width="0.32">P1.0</text>
<text x="557.5" y="315.33" font-size="7.6" fill="#26241a" text-anchor="end" textLength="16" lengthAdjust="spacing" stroke="#26241a" stroke-width="0.32">P2.3</text>
<line x1="563.7" y1="312.53" x2="601.7" y2="312.53" stroke="#404046" stroke-width="1.3"/>
<text x="578.7" y="310.73" font-size="7.8" fill="#34344c" textLength="8.5" lengthAdjust="spacing" stroke="#34344c" stroke-width="0.32">26</text>
<text x="591.6" y="310.73" font-size="7.8" fill="#66384a" textLength="10.5" lengthAdjust="spacing" stroke="#66384a" stroke-width="0.32">D2</text>
<line x1="434.5" y1="321.8" x2="453.4" y2="321.8" stroke="#404046" stroke-width="1.3"/>
<text x="439.5" y="320" font-size="7.8" fill="#34344c" text-anchor="end" stroke="#34344c" stroke-width="0.32">4</text>
<text x="459" y="324.6" font-size="7.6" fill="#26241a" textLength="16" lengthAdjust="spacing" stroke="#26241a" stroke-width="0.32">P1.1</text>
<text x="557.5" y="324.6" font-size="7.6" fill="#26241a" text-anchor="end" textLength="16" lengthAdjust="spacing" stroke="#26241a" stroke-width="0.32">P2.2</text>
<line x1="563.7" y1="321.8" x2="601.7" y2="321.8" stroke="#404046" stroke-width="1.3"/>
<text x="578.7" y="320" font-size="7.8" fill="#34344c" textLength="8.5" lengthAdjust="spacing" stroke="#34344c" stroke-width="0.32">25</text>
<text x="591.6" y="320" font-size="7.8" fill="#66384a" textLength="10.5" lengthAdjust="spacing" stroke="#66384a" stroke-width="0.32">C2</text>
<line x1="434.5" y1="331.06" x2="453.4" y2="331.06" stroke="#404046" stroke-width="1.3"/>
<text x="439.5" y="329.26" font-size="7.8" fill="#34344c" text-anchor="end" stroke="#34344c" stroke-width="0.32">5</text>
<text x="459" y="333.86" font-size="7.6" fill="#26241a" textLength="16" lengthAdjust="spacing" stroke="#26241a" stroke-width="0.32">P1.2</text>
<text x="557.5" y="333.86" font-size="7.6" fill="#26241a" text-anchor="end" textLength="16" lengthAdjust="spacing" stroke="#26241a" stroke-width="0.32">P2.1</text>
<line x1="563.7" y1="331.06" x2="601.7" y2="331.06" stroke="#404046" stroke-width="1.3"/>
<text x="578.7" y="329.26" font-size="7.8" fill="#34344c" textLength="8.5" lengthAdjust="spacing" stroke="#34344c" stroke-width="0.32">24</text>
<text x="591.6" y="329.26" font-size="7.8" fill="#66384a" textLength="10.5" lengthAdjust="spacing" stroke="#66384a" stroke-width="0.32">B2</text>
<text x="439.5" y="338.52" font-size="7.8" fill="#34344c" text-anchor="end" stroke="#34344c" stroke-width="0.32">6</text>
<text x="459" y="343.12" font-size="7.6" fill="#26241a" textLength="16" lengthAdjust="spacing" stroke="#26241a" stroke-width="0.32">P1.3</text>
<text x="557.5" y="343.12" font-size="7.6" fill="#26241a" text-anchor="end" textLength="16" lengthAdjust="spacing" stroke="#26241a" stroke-width="0.32">P2.0</text>
<line x1="563.7" y1="340.32" x2="601.7" y2="340.32" stroke="#404046" stroke-width="1.3"/>
<text x="578.7" y="338.52" font-size="7.8" fill="#34344c" textLength="8.5" lengthAdjust="spacing" stroke="#34344c" stroke-width="0.32">23</text>
<text x="591.6" y="338.52" font-size="7.8" fill="#66384a" textLength="10.5" lengthAdjust="spacing" stroke="#66384a" stroke-width="0.32">A2</text>
<line x1="434.5" y1="349.59" x2="453.4" y2="349.59" stroke="#404046" stroke-width="1.3"/>
<text x="439.5" y="347.79" font-size="7.8" fill="#34344c" text-anchor="end" stroke="#34344c" stroke-width="0.32">7</text>
<text x="459" y="352.39" font-size="7.6" fill="#26241a" textLength="16" lengthAdjust="spacing" stroke="#26241a" stroke-width="0.32">P1.4</text>
<text x="557.5" y="352.39" font-size="7.6" fill="#26241a" text-anchor="end" textLength="16" lengthAdjust="spacing" stroke="#26241a" stroke-width="0.32">P3.7</text>
<line x1="563.7" y1="349.59" x2="601.7" y2="349.59" stroke="#404046" stroke-width="1.3"/>
<text x="578.7" y="347.79" font-size="7.8" fill="#34344c" textLength="8.5" lengthAdjust="spacing" stroke="#34344c" stroke-width="0.32">22</text>
<text x="587" y="347.79" font-size="7.8" fill="#66384a" textLength="15.5" lengthAdjust="spacing" stroke="#66384a" stroke-width="0.32">P3.7</text>
<line x1="434.5" y1="358.86" x2="453.4" y2="358.86" stroke="#404046" stroke-width="1.3"/>
<text x="439.5" y="357.06" font-size="7.8" fill="#34344c" text-anchor="end" stroke="#34344c" stroke-width="0.32">8</text>
<text x="459" y="361.66" font-size="7.6" fill="#26241a" textLength="16" lengthAdjust="spacing" stroke="#26241a" stroke-width="0.32">P1.5</text>
<text x="557.5" y="361.66" font-size="7.6" fill="#26241a" text-anchor="end" textLength="16" lengthAdjust="spacing" stroke="#26241a" stroke-width="0.32">P3.6</text>
<line x1="563.7" y1="358.86" x2="601.7" y2="358.86" stroke="#404046" stroke-width="1.3"/>
<text x="578.7" y="357.06" font-size="7.8" fill="#34344c" textLength="8.5" lengthAdjust="spacing" stroke="#34344c" stroke-width="0.32">21</text>
<text x="587" y="357.06" font-size="7.8" fill="#66384a" textLength="15.5" lengthAdjust="spacing" stroke="#66384a" stroke-width="0.32">P3.6</text>
<text x="439.5" y="366.32" font-size="7.8" fill="#34344c" text-anchor="end" stroke="#34344c" stroke-width="0.32">9</text>
<text x="459" y="370.92" font-size="7.6" fill="#26241a" textLength="16" lengthAdjust="spacing" stroke="#26241a" stroke-width="0.32">P1.6</text>
<text x="557.5" y="370.92" font-size="7.6" fill="#26241a" text-anchor="end" textLength="16" lengthAdjust="spacing" stroke="#26241a" stroke-width="0.32">P3.5</text>
<line x1="563.7" y1="368.12" x2="601.7" y2="368.12" stroke="#404046" stroke-width="1.3"/>
<text x="578.7" y="366.32" font-size="7.8" fill="#34344c" textLength="8.5" lengthAdjust="spacing" stroke="#34344c" stroke-width="0.32">20</text>
<text x="587" y="366.32" font-size="7.8" fill="#66384a" textLength="15.5" lengthAdjust="spacing" stroke="#66384a" stroke-width="0.32">P3.5</text>
<line x1="434.5" y1="377.38" x2="453.4" y2="377.38" stroke="#404046" stroke-width="1.3"/>
<text x="439.5" y="375.58" font-size="7.8" fill="#34344c" text-anchor="end" textLength="9" lengthAdjust="spacing" stroke="#34344c" stroke-width="0.32">10</text>
<text x="459" y="380.19" font-size="7.6" fill="#26241a" textLength="16" lengthAdjust="spacing" stroke="#26241a" stroke-width="0.32">P1.7</text>
<text x="557.5" y="380.19" font-size="7.6" fill="#26241a" text-anchor="end" textLength="16" lengthAdjust="spacing" stroke="#26241a" stroke-width="0.32">P3.4</text>
<line x1="563.7" y1="377.38" x2="601.7" y2="377.38" stroke="#404046" stroke-width="1.3"/>
<text x="578.7" y="375.58" font-size="7.8" fill="#34344c" textLength="8.5" lengthAdjust="spacing" stroke="#34344c" stroke-width="0.32">19</text>
<text x="587" y="375.58" font-size="7.8" fill="#66384a" textLength="15.5" lengthAdjust="spacing" stroke="#66384a" stroke-width="0.32">P3.4</text>
<line x1="415.7" y1="386.65" x2="453.4" y2="386.65" stroke="#404046" stroke-width="1.3"/>
<text x="439.5" y="384.85" font-size="7.8" fill="#34344c" text-anchor="end" textLength="9" lengthAdjust="spacing" stroke="#34344c" stroke-width="0.32">11</text>
<text x="459" y="389.45" font-size="7.6" fill="#26241a" textLength="16" lengthAdjust="spacing" stroke="#26241a" stroke-width="0.32">P0.0</text>
<text x="557.5" y="389.45" font-size="7.6" fill="#26241a" text-anchor="end" textLength="16" lengthAdjust="spacing" stroke="#26241a" stroke-width="0.32">P3.3</text>
<text x="578.7" y="384.85" font-size="7.8" fill="#34344c" textLength="8.5" lengthAdjust="spacing" stroke="#34344c" stroke-width="0.32">18</text>
<line x1="407.6" y1="395.92" x2="453.4" y2="395.92" stroke="#404046" stroke-width="1.3"/>
<text x="439.5" y="394.12" font-size="7.8" fill="#34344c" text-anchor="end" textLength="9" lengthAdjust="spacing" stroke="#34344c" stroke-width="0.32">12</text>
<text x="459" y="398.72" font-size="7.6" fill="#26241a" textLength="13" lengthAdjust="spacing" stroke="#26241a" stroke-width="0.32">Vcc</text>
<text x="557.5" y="398.72" font-size="7.6" fill="#26241a" text-anchor="end" textLength="16" lengthAdjust="spacing" stroke="#26241a" stroke-width="0.32">P3.2</text>
<line x1="563.7" y1="395.92" x2="601.7" y2="395.92" stroke="#404046" stroke-width="1.3"/>
<text x="578.7" y="394.12" font-size="7.8" fill="#34344c" textLength="8.5" lengthAdjust="spacing" stroke="#34344c" stroke-width="0.32">17</text>
<text x="587" y="394.12" font-size="7.8" fill="#66384a" textLength="15.5" lengthAdjust="spacing" stroke="#66384a" stroke-width="0.32">P3.2</text>
<line x1="415.7" y1="405.18" x2="453.4" y2="405.18" stroke="#404046" stroke-width="1.3"/>
<text x="439.5" y="403.38" font-size="7.8" fill="#34344c" text-anchor="end" textLength="9" lengthAdjust="spacing" stroke="#34344c" stroke-width="0.32">13</text>
<text x="459" y="407.98" font-size="7.6" fill="#26241a" textLength="16" lengthAdjust="spacing" stroke="#26241a" stroke-width="0.32">P0.1</text>
<text x="557.5" y="407.98" font-size="7.6" fill="#26241a" text-anchor="end" textLength="37" lengthAdjust="spacing" stroke="#26241a" stroke-width="0.32">P3.1/TxD</text>
<text x="578.7" y="403.38" font-size="7.8" fill="#34344c" textLength="8.5" lengthAdjust="spacing" stroke="#34344c" stroke-width="0.32">16</text>
<line x1="434.5" y1="414.44" x2="453.4" y2="414.44" stroke="#404046" stroke-width="1.3"/>
<text x="439.5" y="412.64" font-size="7.8" fill="#34344c" text-anchor="end" textLength="9" lengthAdjust="spacing" stroke="#34344c" stroke-width="0.32">14</text>
<text x="459" y="417.25" font-size="7.6" fill="#26241a" stroke="#26241a" stroke-width="0.32">Gnd</text>
<text x="557.5" y="417.25" font-size="7.6" fill="#26241a" text-anchor="end" textLength="37" lengthAdjust="spacing" stroke="#26241a" stroke-width="0.32">P3.0/RxD</text>
<text x="578.7" y="412.64" font-size="7.8" fill="#34344c" textLength="8.5" lengthAdjust="spacing" stroke="#34344c" stroke-width="0.32">15</text>
<text x="416.2" y="291.9" font-size="7.6" fill="#66384a" textLength="10.8" lengthAdjust="spacing" stroke="#66384a" stroke-width="0.32">G2</text>
<text x="416.2" y="301.5" font-size="7.6" fill="#66384a" textLength="15" lengthAdjust="spacing" stroke="#66384a" stroke-width="0.32">Dp2</text>
<text x="416.7" y="383.8" font-size="7.8" fill="#66384a" textLength="15.5" lengthAdjust="spacing" stroke="#66384a" stroke-width="0.32">P0.0</text>
<text x="416.7" y="403.2" font-size="7.8" fill="#66384a" textLength="15.5" lengthAdjust="spacing" stroke="#66384a" stroke-width="0.32">P0.1</text>
<text x="387.7" y="398.4" font-size="7.8" fill="#34344c" textLength="17" lengthAdjust="spacing" stroke="#34344c" stroke-width="0.32">VCC</text>
<line x1="407.4" y1="391" x2="407.4" y2="400.2" stroke="#404046" stroke-width="1.5"/>
<line x1="434.8" y1="414.44" x2="434.8" y2="423.4" stroke="#6a3c48" stroke-width="1.3"/>
<line x1="425.35" y1="423.4" x2="444.65" y2="423.4" stroke="#6a3c48" stroke-width="1.3"/>
<line x1="428.44" y1="426.15" x2="441.56" y2="426.15" stroke="#6a3c48" stroke-width="1.3"/>
<line x1="431.14" y1="428.9" x2="438.86" y2="428.9" stroke="#6a3c48" stroke-width="1.3"/>
<line x1="433.65" y1="431.65" x2="436.35" y2="431.65" stroke="#6a3c48" stroke-width="1.3"/>
<polyline points="563.7,386.65 653.2,386.65 653.2,330.7" fill="none" stroke="#404046" stroke-width="1.3" stroke-linejoin="miter"/>
<polyline points="563.7,405.18 648,405.18 648,450.4 671,450.4" fill="none" stroke="#404046" stroke-width="1.3" stroke-linejoin="miter"/>
<polyline points="563.7,414.44 638.8,414.44 638.8,460 689.4,460" fill="none" stroke="#404046" stroke-width="1.3" stroke-linejoin="miter"/>
<path d="M642.4,330.7 A18.8,19 0 0 1 680.0,330.7 Z" fill="none" stroke="#404046" stroke-width="1.3"/>
<text x="642.4" y="301.2" font-size="7.8" fill="#34344c" textLength="24.5" lengthAdjust="spacing" stroke="#34344c" stroke-width="0.32">BEEP1</text>
<polyline points="671.5,330.7 671.5,349.3 694.3,349.3 694.3,330.7" fill="none" stroke="#404046" stroke-width="1.3" stroke-linejoin="miter"/>
<line x1="689.3" y1="330.7" x2="699.3" y2="330.7" stroke="#404046" stroke-width="1.5"/>
<text x="686" y="328.5" font-size="7.8" fill="#34344c" stroke="#34344c" stroke-width="0.32">VCC</text>
<line x1="675" y1="362.8" x2="695" y2="362.8" stroke="#bf6474" stroke-width="1.3"/>
<line x1="678.2" y1="359.8" x2="691.8" y2="359.8" stroke="#bf6474" stroke-width="1.3"/>
<line x1="681" y1="356.8" x2="689" y2="356.8" stroke="#bf6474" stroke-width="1.3"/>
<line x1="683.6" y1="353.8" x2="686.4" y2="353.8" stroke="#bf6474" stroke-width="1.3"/>
<line x1="685" y1="362.8" x2="685" y2="386.3" stroke="#404046" stroke-width="1.3"/>
<polyline points="671,404.5 671,386.3 698.8,386.3 698.8,404.5" fill="none" stroke="#404046" stroke-width="1.3" stroke-linejoin="miter"/>
<circle cx="685" cy="386.3" r="1.5" fill="#5a2030"/>
<circle cx="671" cy="406.8" r="2.3" fill="white" stroke="#3a3a8a" stroke-width="1.1"/>
<circle cx="671" cy="429.2" r="2.3" fill="white" stroke="#3a3a8a" stroke-width="1.1"/>
<line x1="665.4" y1="404.5" x2="665.4" y2="432.5" stroke="#2a2a9a" stroke-width="1.4"/>
<rect x="662" y="414.6" width="3.4" height="7.9" fill="#1616a0" stroke="#1616a0" stroke-width="0.5"/>
<text x="672.2" y="421.3" font-size="7.8" fill="#34344c" stroke="#34344c" stroke-width="0.32">S1</text>
<circle cx="698.4" cy="406.8" r="2.3" fill="white" stroke="#3a3a8a" stroke-width="1.1"/>
<circle cx="698.4" cy="429.2" r="2.3" fill="white" stroke="#3a3a8a" stroke-width="1.1"/>
<line x1="692.8" y1="404.5" x2="692.8" y2="432.5" stroke="#2a2a9a" stroke-width="1.4"/>
<rect x="689.4" y="414.6" width="3.4" height="7.9" fill="#1616a0" stroke="#1616a0" stroke-width="0.5"/>
<text x="699.6" y="421.3" font-size="7.8" fill="#34344c" stroke="#34344c" stroke-width="0.32">S2</text>
<polyline points="671,431.5 671,450.4 680.4,456 680.4,488.5" fill="none" stroke="#404046" stroke-width="1.3" stroke-linejoin="miter"/>
<circle cx="671" cy="450.4" r="1.5" fill="#5a2030"/>
<polyline points="698.4,431.5 698.4,450.4 689.4,456 689.4,488.5" fill="none" stroke="#404046" stroke-width="1.3" stroke-linejoin="miter"/>
<circle cx="689.4" cy="460" r="1.5" fill="#5a2030"/>
<polyline points="629.6,488.5 629.6,474.6 671.6,474.6 671.6,488.5" fill="none" stroke="#404046" stroke-width="1.3" stroke-linejoin="miter"/>
<polyline points="698.6,488.5 698.6,474.6 722.6,474.6 722.6,488.5" fill="none" stroke="#404046" stroke-width="1.3" stroke-linejoin="miter"/>
<line x1="27.7" y1="460.4" x2="27.7" y2="478.4" stroke="#bf6474" stroke-width="1.3"/>
<line x1="25.15" y1="463.1" x2="25.15" y2="475.7" stroke="#bf6474" stroke-width="1.3"/>
<line x1="22.6" y1="465.62" x2="22.6" y2="473.18" stroke="#bf6474" stroke-width="1.3"/>
<line x1="19.9" y1="467" x2="19.9" y2="471.8" stroke="#bf6474" stroke-width="1.1"/>
<line x1="27.7" y1="469.4" x2="36.7" y2="469.4" stroke="#bf6474" stroke-width="1.2"/>
<circle cx="36.7" cy="469.4" r="1.5" fill="#5a2030"/>
<polyline points="57.8,441.3 36.7,441.3 36.7,497.1 57.8,497.1" fill="none" stroke="#404046" stroke-width="1.3" stroke-linejoin="miter"/>
<line x1="57.9" y1="433.6" x2="57.9" y2="450.4" stroke="#4a4a64" stroke-width="1.8"/>
<line x1="57.9" y1="489" x2="57.9" y2="505.5" stroke="#4a4a64" stroke-width="1.8"/>
<line x1="61.7" y1="433.6" x2="61.7" y2="450.4" stroke="#4a4a64" stroke-width="1.8"/>
<line x1="61.7" y1="489" x2="61.7" y2="505.5" stroke="#4a4a64" stroke-width="1.8"/>
<polyline points="61.7,441.3 110.9,441.3 110.9,460.6 166.4,460.6" fill="none" stroke="#404046" stroke-width="1.3" stroke-linejoin="miter"/>
<polyline points="61.7,497.1 110.9,497.1 110.9,469.8 166.4,469.8" fill="none" stroke="#404046" stroke-width="1.3" stroke-linejoin="miter"/>
<circle cx="74" cy="441.3" r="1.7" fill="#5a2030"/>
<circle cx="74" cy="497.1" r="1.7" fill="#5a2030"/>
<line x1="74" y1="441.3" x2="74" y2="462.2" stroke="#404046" stroke-width="1.3"/>
<line x1="74" y1="477" x2="74" y2="497.1" stroke="#404046" stroke-width="1.3"/>
<line x1="68.6" y1="462.2" x2="80" y2="462.2" stroke="#404046" stroke-width="1.5"/>
<rect x="65.8" y="466.3" width="16.4" height="7" fill="white" stroke="#404046" stroke-width="1.3"/>
<line x1="68.4" y1="477" x2="80" y2="477" stroke="#404046" stroke-width="1.5"/>
<text x="45" y="440" font-size="8" fill="#34344c" textLength="11" lengthAdjust="spacing" stroke="#34344c" stroke-width="0.32">C3</text>
<text x="59.4" y="459" font-size="8" fill="#34344c" textLength="14" lengthAdjust="spacing" stroke="#34344c" stroke-width="0.32">22p</text>
<text x="83.8" y="466.4" font-size="8" fill="#34344c" stroke="#34344c" stroke-width="0.32">Y1</text>
<text x="83" y="475.8" font-size="8" fill="#34344c" textLength="31" lengthAdjust="spacing" stroke="#34344c" stroke-width="0.32">32.768k</text>
<text x="45" y="490.2" font-size="8" fill="#34344c" textLength="11" lengthAdjust="spacing" stroke="#34344c" stroke-width="0.32">C1</text>
<text x="63.8" y="504.6" font-size="8" fill="#34344c" textLength="14.5" lengthAdjust="spacing" stroke="#34344c" stroke-width="0.32">22p</text>
<text x="147.6" y="425.9" font-size="8" fill="#34344c" text-anchor="middle" textLength="17.5" lengthAdjust="spacing" stroke="#34344c" stroke-width="0.32">VCC</text>
<line x1="144.2" y1="428.6" x2="151" y2="428.6" stroke="#404046" stroke-width="1.5"/>
<polyline points="147.6,428.6 147.6,451.3 166.4,451.3" fill="none" stroke="#404046" stroke-width="1.3" stroke-linejoin="miter"/>
<polyline points="166.4,479 147.6,479 147.6,497.3" fill="none" stroke="#404046" stroke-width="1.3" stroke-linejoin="miter"/>
<line x1="138.6" y1="497.3" x2="156.6" y2="497.3" stroke="#c86a78" stroke-width="1.3"/>
<line x1="141.48" y1="500.3" x2="153.72" y2="500.3" stroke="#c86a78" stroke-width="1.3"/>
<line x1="144" y1="503.3" x2="151.2" y2="503.3" stroke="#c86a78" stroke-width="1.3"/>
<line x1="146.34" y1="506.3" x2="148.86" y2="506.3" stroke="#c86a78" stroke-width="1.3"/>
<rect x="166.3" y="441.9" width="46" height="45.3" fill="#ffffb0" stroke="#74694e" stroke-width="1.4"/>
<text x="167" y="440.2" font-size="8" fill="#34344c" textLength="10" lengthAdjust="spacing" stroke="#34344c" stroke-width="0.32">U?</text>
<text x="167" y="496.6" font-size="8" fill="#34344c" textLength="29.5" lengthAdjust="spacing" stroke="#34344c" stroke-width="0.32">DS1302</text>
<text x="172.5" y="454.1" font-size="8" fill="#26241a" stroke="#26241a" stroke-width="0.32">vcc</text>
<text x="207.3" y="454.1" font-size="8" fill="#26241a" text-anchor="end" textLength="23" lengthAdjust="spacing" stroke="#26241a" stroke-width="0.32">VCC2</text>
<text x="148.6" y="449.7" font-size="8" fill="#34344c" stroke="#34344c" stroke-width="0.32">1</text>
<text x="227" y="449.7" font-size="8" fill="#34344c" stroke="#34344c" stroke-width="0.32">8</text>
<text x="172.5" y="463.4" font-size="8" fill="#26241a" stroke="#26241a" stroke-width="0.32">x1</text>
<text x="207.3" y="463.4" font-size="8" fill="#26241a" text-anchor="end" textLength="23" lengthAdjust="spacing" stroke="#26241a" stroke-width="0.32">SCLK</text>
<text x="148.6" y="459" font-size="8" fill="#34344c" stroke="#34344c" stroke-width="0.32">2</text>
<text x="227" y="459" font-size="8" fill="#34344c" stroke="#34344c" stroke-width="0.32">7</text>
<text x="172.5" y="472.6" font-size="8" fill="#26241a" stroke="#26241a" stroke-width="0.32">x2</text>
<text x="207.3" y="472.6" font-size="8" fill="#26241a" text-anchor="end" stroke="#26241a" stroke-width="0.32">IO</text>
<text x="148.6" y="468.2" font-size="8" fill="#34344c" stroke="#34344c" stroke-width="0.32">3</text>
<text x="227" y="468.2" font-size="8" fill="#34344c" stroke="#34344c" stroke-width="0.32">6</text>
<text x="172.5" y="481.8" font-size="8" fill="#26241a" stroke="#26241a" stroke-width="0.32">GND</text>
<text x="207.3" y="481.8" font-size="8" fill="#26241a" text-anchor="end" textLength="15" lengthAdjust="spacing" stroke="#26241a" stroke-width="0.32">RST</text>
<text x="148.6" y="477.4" font-size="8" fill="#34344c" stroke="#34344c" stroke-width="0.32">4</text>
<text x="227" y="477.4" font-size="8" fill="#34344c" stroke="#34344c" stroke-width="0.32">5</text>
<line x1="212" y1="451.3" x2="250" y2="451.3" stroke="#404046" stroke-width="1.3"/>
<line x1="212" y1="460.6" x2="395.4" y2="460.6" stroke="#404046" stroke-width="1.3"/>
<line x1="212" y1="469.8" x2="395.4" y2="469.8" stroke="#404046" stroke-width="1.3"/>
<line x1="212" y1="479" x2="395.4" y2="479" stroke="#404046" stroke-width="1.3"/>
<text x="378.6" y="458.2" font-size="8" fill="#66384a" textLength="16.5" lengthAdjust="spacing" stroke="#66384a" stroke-width="0.32">P3.2</text>
<text x="378.6" y="467.4" font-size="8" fill="#66384a" textLength="16.5" lengthAdjust="spacing" stroke="#66384a" stroke-width="0.32">P0.1</text>
<text x="378.6" y="476.6" font-size="8" fill="#66384a" textLength="16.5" lengthAdjust="spacing" stroke="#66384a" stroke-width="0.32">P0.0</text>
<text x="249.4" y="439.6" font-size="8" fill="#34344c" stroke="#34344c" stroke-width="0.32">BT1</text>
<line x1="250" y1="441.9" x2="250" y2="460.6" stroke="#7a7a80" stroke-width="1.1"/>
<line x1="262" y1="441.9" x2="262" y2="460.6" stroke="#7a7a80" stroke-width="1.1"/>
<line x1="255.9" y1="445.2" x2="255.9" y2="456.5" stroke="#2a2a7a" stroke-width="2.4"/>
<line x1="267.9" y1="445.2" x2="267.9" y2="456.5" stroke="#2a2a7a" stroke-width="2.4"/>
<polyline points="267.9,451.3 287.4,451.3 287.4,441.3" fill="none" stroke="#404046" stroke-width="1.3" stroke-linejoin="miter"/>
<line x1="277.75" y1="441.3" x2="296.25" y2="441.3" stroke="#bf6474" stroke-width="1.3"/>
<line x1="280.71" y1="438.7" x2="293.29" y2="438.7" stroke="#bf6474" stroke-width="1.3"/>
<line x1="283.3" y1="436.1" x2="290.7" y2="436.1" stroke="#bf6474" stroke-width="1.3"/>
<line x1="285.7" y1="433.5" x2="288.3" y2="433.5" stroke="#bf6474" stroke-width="1.3"/>
</svg></body></html>
